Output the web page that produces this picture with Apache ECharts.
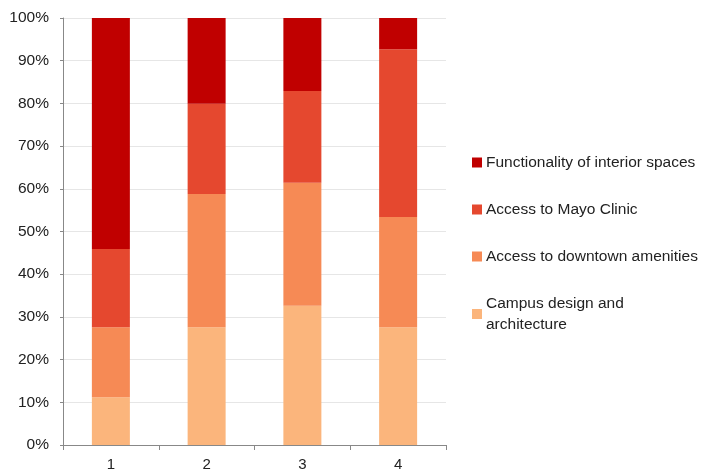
<!DOCTYPE html>
<html><head><meta charset="utf-8">
<script src="https://cdn.jsdelivr.net/npm/echarts@6/dist/echarts.min.js"></script>
<style>html,body{margin:0;padding:0;background:#fff}#c{width:704px;height:475px}</style>
</head><body><div id="c"></div>
<script>
var categories = ['1','2','3','4'];
var campus = [11.2, 27.6, 32.6, 27.6];
var downtown = [16.4, 31.2, 28.8, 25.8];
var mayo = [18.3, 21.1, 21.5, 39.3];
var functionality = [54.1, 20.1, 17.1, 7.3];
var seriesNames = ['Campus design and architecture','Access to downtown amenities','Access to Mayo Clinic','Functionality of interior spaces'];
var colors = ['#fbb57c','#f68a55','#e5482f','#c00000'];
var chart = echarts.init(document.getElementById('c'));
var dataSets = [campus, downtown, mayo, functionality];
chart.setOption({
  animation:false,
  textStyle:{fontFamily:'Liberation Sans, Arial, sans-serif'},
  grid:{left:63,right:258,top:18,bottom:30},
  legend:{
    orient:'vertical', left:467, top:147, itemWidth:10, itemHeight:10, itemGap:26,
    icon:'rect',
    data:[seriesNames[3],seriesNames[2],seriesNames[1],seriesNames[0]],
    formatter:function(n){return n==='Campus design and architecture'?'Campus design and\narchitecture':n;},
    textStyle:{fontSize:15.5,color:'#222',lineHeight:21,padding:[0,0,0,-1]}
  },
  xAxis:{type:'category',data:categories,
    axisLine:{lineStyle:{color:'#888'}},
    axisTick:{show:true,alignWithLabel:false,length:5,lineStyle:{color:'#888'}},
    axisLabel:{fontSize:15,color:'#222',margin:12}},
  yAxis:{type:'value',min:0,max:100,interval:10,
    axisLine:{show:true,lineStyle:{color:'#888'}},
    axisTick:{show:true,length:3,lineStyle:{color:'#888'}},
    axisLabel:{fontSize:15.5,color:'#222',formatter:'{value}%',margin:14},
    splitLine:{lineStyle:{color:'#e6e6e6'}}},
  series: dataSets.map(function(d,i){return {name:seriesNames[i],type:'bar',stack:'a',barWidth:38,data:d,itemStyle:{color:colors[i]}};})
});
</script></body></html>
